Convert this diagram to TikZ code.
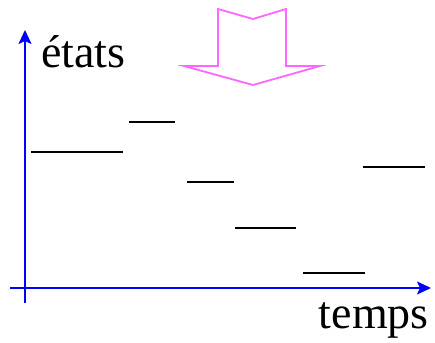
\documentclass[tikz,border=0pt]{standalone}
\usepackage{fontspec}
\setmainfont{Liberation Serif}
\usetikzlibrary{arrows.meta}
\definecolor{axisblue}{RGB}{0,0,255}
\definecolor{pinkarrow}{RGB}{255,102,255}
\tikzset{
  axis/.style={draw=axisblue, line width=2pt, -{Stealth[length=14pt,width=13pt,inset=3pt]}},
  level/.style={draw=black, line width=2pt},
  bigarrow/.style={draw=pinkarrow, line width=1.8pt, line join=miter},
  lbl/.style={inner sep=0pt, font=\fontsize{46}{50}\selectfont}
}
\begin{document}
\begin{tikzpicture}[x=1pt,y=-1pt]
\useasboundingbox (0,0) rectangle (435,342);
% axes
\coordinate (vbot) at (25,303);
\coordinate (vtop) at (25,30);
\coordinate (hleft) at (10,288);
\coordinate (hright) at (431,288);
\draw[axis] (vbot) -- (vtop);
\draw[axis] (hleft) -- (hright);
\node[lbl, anchor=base west] (etats) at (41,67) {états};
\node[lbl, anchor=base east] (temps) at (429,328) {temps};
% levels
\draw[level] (31,152) -- (123,152);
\draw[level] (129,122) -- (175,122);
\draw[level] (187,182) -- (234,182);
\draw[level] (235,228) -- (296,228);
\draw[level] (303,273) -- (365,273);
\draw[level] (363,167) -- (425,167);
% pink arrow
\draw[bigarrow] (218,9) -- (253,19) -- (286,9) -- (286,66) -- (320,66) -- (253,85) -- (184,66) -- (218,66) -- cycle;
\end{tikzpicture}
\end{document}
